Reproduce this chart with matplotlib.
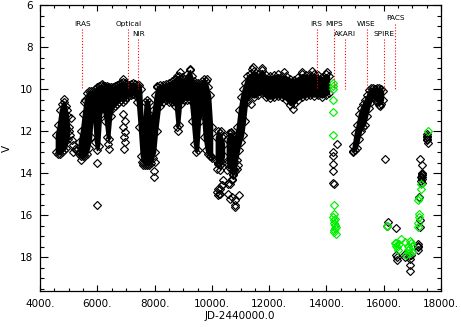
import matplotlib
matplotlib.use('Agg')
import matplotlib.pyplot as plt
from matplotlib.ticker import MultipleLocator, FormatStrFormatter

# ---- dense monitoring seasons: JD-2440000, bright (top) and faint (bottom) edge of the band (V mag)
season_a_jd = [4558, 4628, 4698, 4768, 4838, 4907, 4977, 5012]
season_a_top = [12.2, 11.7, 11.0, 10.7, 10.6, 10.8, 11.3, 11.8]
season_a_bot = [13.0, 13.1, 13.1, 13.0, 12.9, 12.8, 12.4, 12.0]

season_b_jd = [5361, 5431, 5501, 5571, 5640, 5710, 5780, 5850, 5920, 5989, 6059, 6129, 6199,
               6269, 6338, 6408, 6478, 6548, 6618, 6687, 6757, 6827, 6897, 6967, 7036, 7106,
               7176, 7246, 7316, 7385, 7455, 7525, 7595, 7664, 7734, 7804, 7874, 7943, 8013,
               8083, 8188, 8293, 8397, 8502, 8607, 8712, 8781, 8851, 8921, 9026, 9130, 9235,
               9305, 9375, 9444, 9514, 9584, 9654, 9724, 9793, 9863, 9933, 10003]
season_b_top = [12.5, 12.0, 11.2, 10.5, 10.2, 10.1, 10.1, 10.1, 10.0, 9.9, 9.85, 9.8, 9.85,
                9.85, 9.85, 9.9, 9.9, 9.9, 9.85, 9.8, 9.75, 9.7, 9.65, 9.7, 9.75, 9.8,
                9.75, 9.7, 9.75, 9.8, 9.8, 10.0, 12.0, 10.6, 10.5, 10.6, 11.5, 11.0, 10.3,
                9.9, 9.8, 9.8, 9.75, 9.7, 9.6, 9.5, 9.4, 9.4, 9.5, 9.5, 9.3, 9.1,
                9.4, 9.6, 9.7, 9.7, 9.8, 9.6, 9.5, 9.6, 9.9, 10.3, 11.8]
season_b_bot = [13.1, 13.2, 13.2, 13.2, 13.1, 12.8, 12.3, 11.0, 12.5, 12.9, 12.7, 11.2, 10.9,
                11.5, 12.3, 12.4, 11.3, 10.9, 10.8, 10.7, 10.6, 10.5, 10.6, 10.5, 10.4, 10.3,
                10.3, 10.25, 10.3, 10.6, 11.8, 13.2, 13.5, 13.6, 13.6, 13.6, 13.5, 13.3, 13.0,
                12.0, 10.8, 10.6, 10.5, 10.6, 10.6, 10.8, 11.8, 11.7, 10.7, 10.5, 10.5, 10.5,
                11.5, 12.6, 13.0, 12.9, 11.5, 11.0, 12.3, 12.9, 13.1, 13.2, 13.3]

season_c1_jd = [10142, 10212, 10282, 10352, 10421]
season_c1_top = [12.3, 12.0, 12.1, 12.3, 12.6]
season_c1_bot = [13.4, 13.5, 13.6, 13.5, 13.2]

season_c2_jd = [10526, 10596, 10666, 10735, 10805, 10875, 10945, 11014, 11084, 11154, 11224,
                11329, 11469, 11608, 11748, 11887, 12027, 12167, 12306, 12446, 12585, 12725,
                12865, 13004, 13144, 13283, 13423, 13563, 13702, 13842, 13981, 14086]
season_c2_top = [12.4, 12.1, 12.1, 12.2, 12.4, 11.8, 11.0, 10.4, 10.0, 9.7, 9.4,
                 9.3, 9.15, 9.3, 9.1, 9.35, 9.4, 9.35, 9.3, 9.4, 9.4, 9.5,
                 9.55, 9.45, 9.3, 9.35, 9.35, 9.3, 9.35, 9.45, 9.3, 9.4]
season_c2_bot = [13.5, 13.7, 13.8, 13.9, 13.9, 13.4, 12.9, 12.5, 12.2, 11.5, 10.6,
                 10.3, 10.4, 10.3, 10.2, 10.4, 10.45, 10.4, 10.35, 10.4, 10.5, 10.75,
                 10.7, 10.5, 10.4, 10.35, 10.3, 10.35, 10.3, 10.4, 10.3, 10.2]

season_d_jd = [14924, 14994, 15063, 15133, 15203, 15273, 15343, 15412, 15482, 15552, 15622,
               15692, 15761, 15831, 15901, 15971]
season_d_top = [12.7, 12.1, 11.7, 11.2, 10.9, 10.7, 10.5, 10.3, 10.05, 9.95, 9.95,
                10.0, 9.95, 9.95, 10.0, 10.1]
season_d_bot = [13.0, 12.9, 12.8, 12.4, 12.0, 11.8, 11.7, 11.3, 10.9, 10.6, 10.4,
                10.5, 10.6, 10.75, 10.7, 10.5]

# ---- individual (sparse) observations
black_jd = [4848, 4932, 5071, 5047, 5106, 5163, 5222, 5163, 5302, 5372, 5396, 5455, 5420, 5979,
            6000, 5546, 6175, 6384, 6400,
            6907, 6907, 6967, 6907, 6967, 6940, 6967, 6940,
            7549, 7724, 7606, 7780, 7990, 7990, 8014, 8077,
            8537, 8806, 8886, 8966, 9235, 9816, 9957, 10317, 10656,
            10167, 10223, 10258, 10282, 10397, 10341, 10223, 10167, 10223, 10282, 10250, 10362,
            10300, 10572, 10631, 10806, 10956, 10806, 10725, 10865, 10746, 10921, 10690, 10631,
            10572, 10690, 10820, 10690, 10746, 10516,
            11380, 12841, 11409, 11758, 12526, 13133, 13482, 14006, 11430,
            14376, 14236, 14236, 14236, 14236, 14236, 14250,
            14934, 15866, 16051,
            16156, 16100, 16413, 16424, 16470, 16450, 16913, 16913, 16935, 16880, 16950, 16739,
            16760, 17202, 17182, 17202, 17210, 17270, 17340, 17321, 17330, 17310, 17321, 17340,
            17300, 17350, 17320, 17237, 17262, 17262, 17510, 17520, 17500, 17530, 17515, 17525]
black_v = [10.48, 11.0, 11.4, 12.2, 12.44, 12.68, 12.84, 13.0, 12.92, 13.0, 12.76, 13.07, 13.39, 13.52,
           15.5, 10.61, 9.77, 12.6, 12.85,
           9.5, 11.17, 11.5, 11.8, 12.04, 12.28, 12.52, 12.84,
           13.47, 13.39, 13.63, 13.58, 13.9, 14.19, 13.47, 9.86,
           10.5, 12.0, 9.18, 9.42, 9.07, 9.5, 13.2, 12.0, 12.04,
           13.79, 13.55, 13.47, 13.87, 14.35, 14.58, 14.74, 14.9, 15.06, 14.74, 14.98, 14.58,
           14.98, 14.98, 15.22, 15.3, 15.06, 15.54, 13.87, 13.79, 14.1, 13.63, 14.35, 14.5,
           14.5, 15.14, 15.62, 14.26, 14.03, 13.87,
           10.7, 10.93, 9.05, 9.0, 9.18, 9.2, 9.15, 9.2, 8.95,
           12.63, 13.0, 13.2, 13.55, 13.9, 14.45, 14.5,
           12.95, 10.8, 13.33,
           16.33, 16.54, 16.62, 17.92, 18.13, 18.0, 18.08, 18.4, 18.64, 17.95, 17.9, 17.84,
           17.98, 17.37, 17.53, 17.68, 17.45, 13.33, 13.62, 14.0, 14.1, 14.2, 14.3, 14.05,
           14.4, 14.2, 14.45, 15.14, 16.25, 16.57, 12.15, 12.3, 12.45, 12.55, 12.25, 12.4]

green_jd = [14215, 14236, 14225, 14236, 14236, 14236, 14261, 14261, 14290, 14261, 14320, 14261,
            14330, 14240, 14250, 14300, 14280, 14300,
            16100, 16120,
            16390, 16588, 16470, 16505, 16440, 16424, 16540,
            16739, 16913, 16833, 16972, 16833, 16972, 16770, 16900, 16950, 16880,
            17286, 17286, 17237, 17202, 17237, 17220, 17182, 17202, 17531]
green_v = [9.72, 9.85, 10.0, 10.5, 11.1, 12.2, 15.54, 15.93, 16.17, 16.38, 16.57, 16.7,
           16.92, 16.1, 16.25, 16.45, 16.8, 16.62,
           16.54, 16.5,
           17.33, 17.15, 17.53, 17.68, 17.45, 17.33, 17.4,
           17.29, 17.25, 17.49, 17.49, 17.68, 17.76, 17.89, 17.6, 17.35, 17.8,
           14.5, 14.74, 15.19, 15.3, 15.93, 16.1, 16.38, 16.57, 12.0]

# ---- epochs of other observations (annotations)
instr_names = ['IRAS', 'Optical', 'NIR', 'IRS', 'MIPS', 'AKARI', 'WISE', 'SPIRE', 'PACS']
instr_jd = [5475, 7083, 7432, 13656, 14272, 14656, 15401, 16017, 16401]
instr_label_v = [6.92, 6.92, 7.38, 6.92, 6.92, 7.38, 6.92, 7.38, 6.64]
instr_line_top = [7.16, 7.16, 7.6, 7.16, 7.16, 7.62, 7.16, 7.62, 6.9]
instr_line_bottom = 10.0

x_ticks = [4000, 6000, 8000, 10000, 12000, 14000, 16000, 18000]
y_ticks = [6, 8, 10, 12, 14, 16, 18]

plt.rcParams['font.family'] = ['DejaVu Sans']

W, H = 461, 327
fig = plt.figure(figsize=(W / 100, H / 100), dpi=100)
ax = fig.add_axes([40 / W, 1 - 290.7 / H, 401 / W, 285.7 / H])

seasons = [(season_a_jd, season_a_top, season_a_bot),
           (season_b_jd, season_b_top, season_b_bot),
           (season_c1_jd, season_c1_top, season_c1_bot),
           (season_c2_jd, season_c2_top, season_c2_bot),
           (season_d_jd, season_d_top, season_d_bot)]

dkw = dict(marker='D', ms=3.6, mfc='none', mew=0.85, ls='none')
for jd, top, bot in seasons:
    ax.fill_between(jd, top, bot, facecolor='black', edgecolor='black', lw=1.2, zorder=3)
    ax.plot(jd, top, mec='black', zorder=2, **dkw)
    ax.plot(jd, bot, mec='black', zorder=2, **dkw)

ax.plot(black_jd, black_v, mec='black', zorder=4, **dkw)
ax.plot(green_jd, green_v, mec='#00ee00', zorder=5, **dkw)

for name, jd, lv, lt in zip(instr_names, instr_jd, instr_label_v, instr_line_top):
    ax.plot([jd, jd], [lt, instr_line_bottom], color='red', lw=0.8,
            ls=(0, (1, 1.6)), zorder=6)
    ax.text(jd, lv, name, ha='center', va='center', fontsize=5.3, zorder=7)

ax.set_xlim(4000, 18000)
ax.set_ylim(19.6, 6)
ax.set_xticks(x_ticks)
ax.set_yticks(y_ticks)
ax.xaxis.set_minor_locator(MultipleLocator(500))
ax.yaxis.set_minor_locator(MultipleLocator(0.5))
ax.xaxis.set_major_formatter(FormatStrFormatter('%d.'))
ax.yaxis.set_major_formatter(FormatStrFormatter('%d'))

ax.tick_params(which='both', direction='in', top=True, right=True, width=0.8, labelsize=7.5)
ax.tick_params(axis='x', which='major', length=4.1, pad=6)
ax.tick_params(axis='x', which='minor', length=2.1)
ax.tick_params(axis='y', which='major', length=5.8, pad=5)
ax.tick_params(axis='y', which='minor', length=2.9)
for s in ax.spines.values():
    s.set_linewidth(0.9)

fig.text(240 / W, 1 - 316 / H, 'JD-2440000.0', ha='center', va='center', fontsize=7.5)
fig.text(7 / W, 1 - 148 / H, 'V', ha='center', va='center', rotation=90, fontsize=7.5)

fig.savefig('out.png', dpi=100)
